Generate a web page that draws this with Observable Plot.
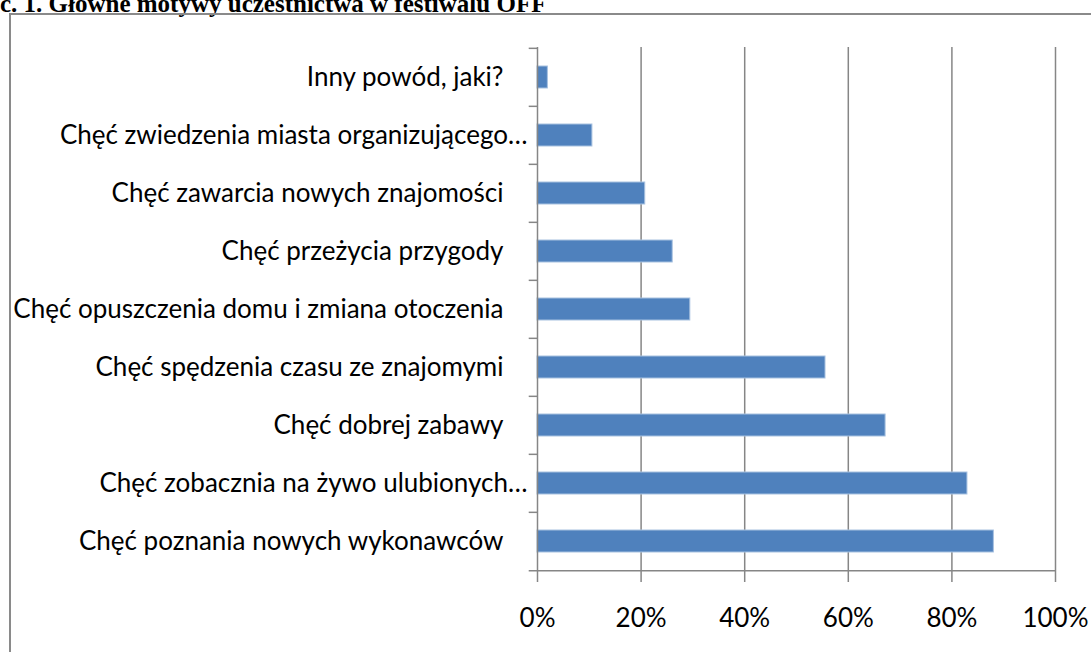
<!DOCTYPE html>
<html><head><meta charset="utf-8">
<script src="https://cdn.jsdelivr.net/npm/d3@7"></script>
<script src="https://cdn.jsdelivr.net/npm/@observablehq/plot@0.6"></script>
<style>
html,body{margin:0;padding:0;background:#fff;overflow:hidden;}
#wrap{position:relative;width:1091px;height:652px;}
#title{position:absolute;left:0;top:-9px;font-family:"Liberation Serif",serif;font-weight:bold;font-size:25px;line-height:25px;white-space:nowrap;color:#000;}
#frame{position:absolute;left:9px;top:13px;width:1100px;height:700px;border-left:2px solid #8a8a8a;border-top:2px solid #8a8a8a;}
#chart{position:absolute;left:0;top:0;}
</style></head>
<body><div id="wrap"><div id="title">c. 1. Główne motywy uczestnictwa w festiwalu OFF</div><div id="frame"></div><div id="chart"></div></div>
<script>
const categories = [
  "Inny powód, jaki?",
  "Chęć zwiedzenia miasta organizującego…",
  "Chęć zawarcia nowych znajomości",
  "Chęć przeżycia przygody",
  "Chęć opuszczenia domu i zmiana otoczenia",
  "Chęć spędzenia czasu ze znajomymi",
  "Chęć dobrej zabawy",
  "Chęć zobacznia na żywo ulubionych…",
  "Chęć poznania nowych wykonawców"
];
const values = [2.0, 10.6, 20.8, 26.1, 29.5, 55.6, 67.2, 83.0, 88.1];
const truncated = [categories[1], categories[7]];
const fullLabels = categories.filter(c => !truncated.includes(c));
const xTicks = [0, 20, 40, 60, 80, 100];

const data = categories.map((c, i) => ({category: c, value: values[i]}));

const W = 1091, H = 652, mT = 47, mB = 80, mL = 537, mR = 36;
const step = (H - mT - mB) / categories.length;
const font = "Lato, sans-serif";
const grid = "#868686";

const chart = Plot.plot({
  width: W, height: H,
  marginTop: mT, marginBottom: mB, marginLeft: mL, marginRight: mR,
  style: {fontFamily: font, fontSize: "26px", color: "#000", background: "transparent", overflow: "visible"},
  x: {domain: [0, 100]},
  y: {domain: categories, paddingInner: 0.62, paddingOuter: 0.31},
  marks: [
    Plot.ruleX(xTicks.slice(1), {stroke: grid, strokeWidth: 1.5, strokeOpacity: 1}),
    Plot.ruleY(categories, {y: d => d, x1: -1.6, x2: 0, dy: -step / 2, stroke: grid, strokeWidth: 1.5}),
    Plot.barX(data, {y: "category", x: "value", fill: "#4F81BD", stroke: "#A7C1E0", strokeWidth: 1}),
    Plot.ruleX([0], {stroke: grid, strokeWidth: 1.5}),
    Plot.ruleY([categories[categories.length - 1]], {x1: -1.6, x2: 100, dy: step / 2, stroke: grid, strokeWidth: 1.5}),
    Plot.axisX(xTicks, {tickFormat: d => d + "%", tickSize: 10, tickPadding: 26, stroke: grid, strokeWidth: 1.5, strokeOpacity: 1, fontSize: 26, label: null}),
    Plot.axisY(truncated, {tickSize: 0, tickPadding: 10, fontSize: 26, label: null}),
    Plot.axisY(fullLabels, {tickSize: 0, tickPadding: 34, fontSize: 26, label: null})
  ]
});
document.getElementById("chart").appendChild(chart);
</script></body></html>
